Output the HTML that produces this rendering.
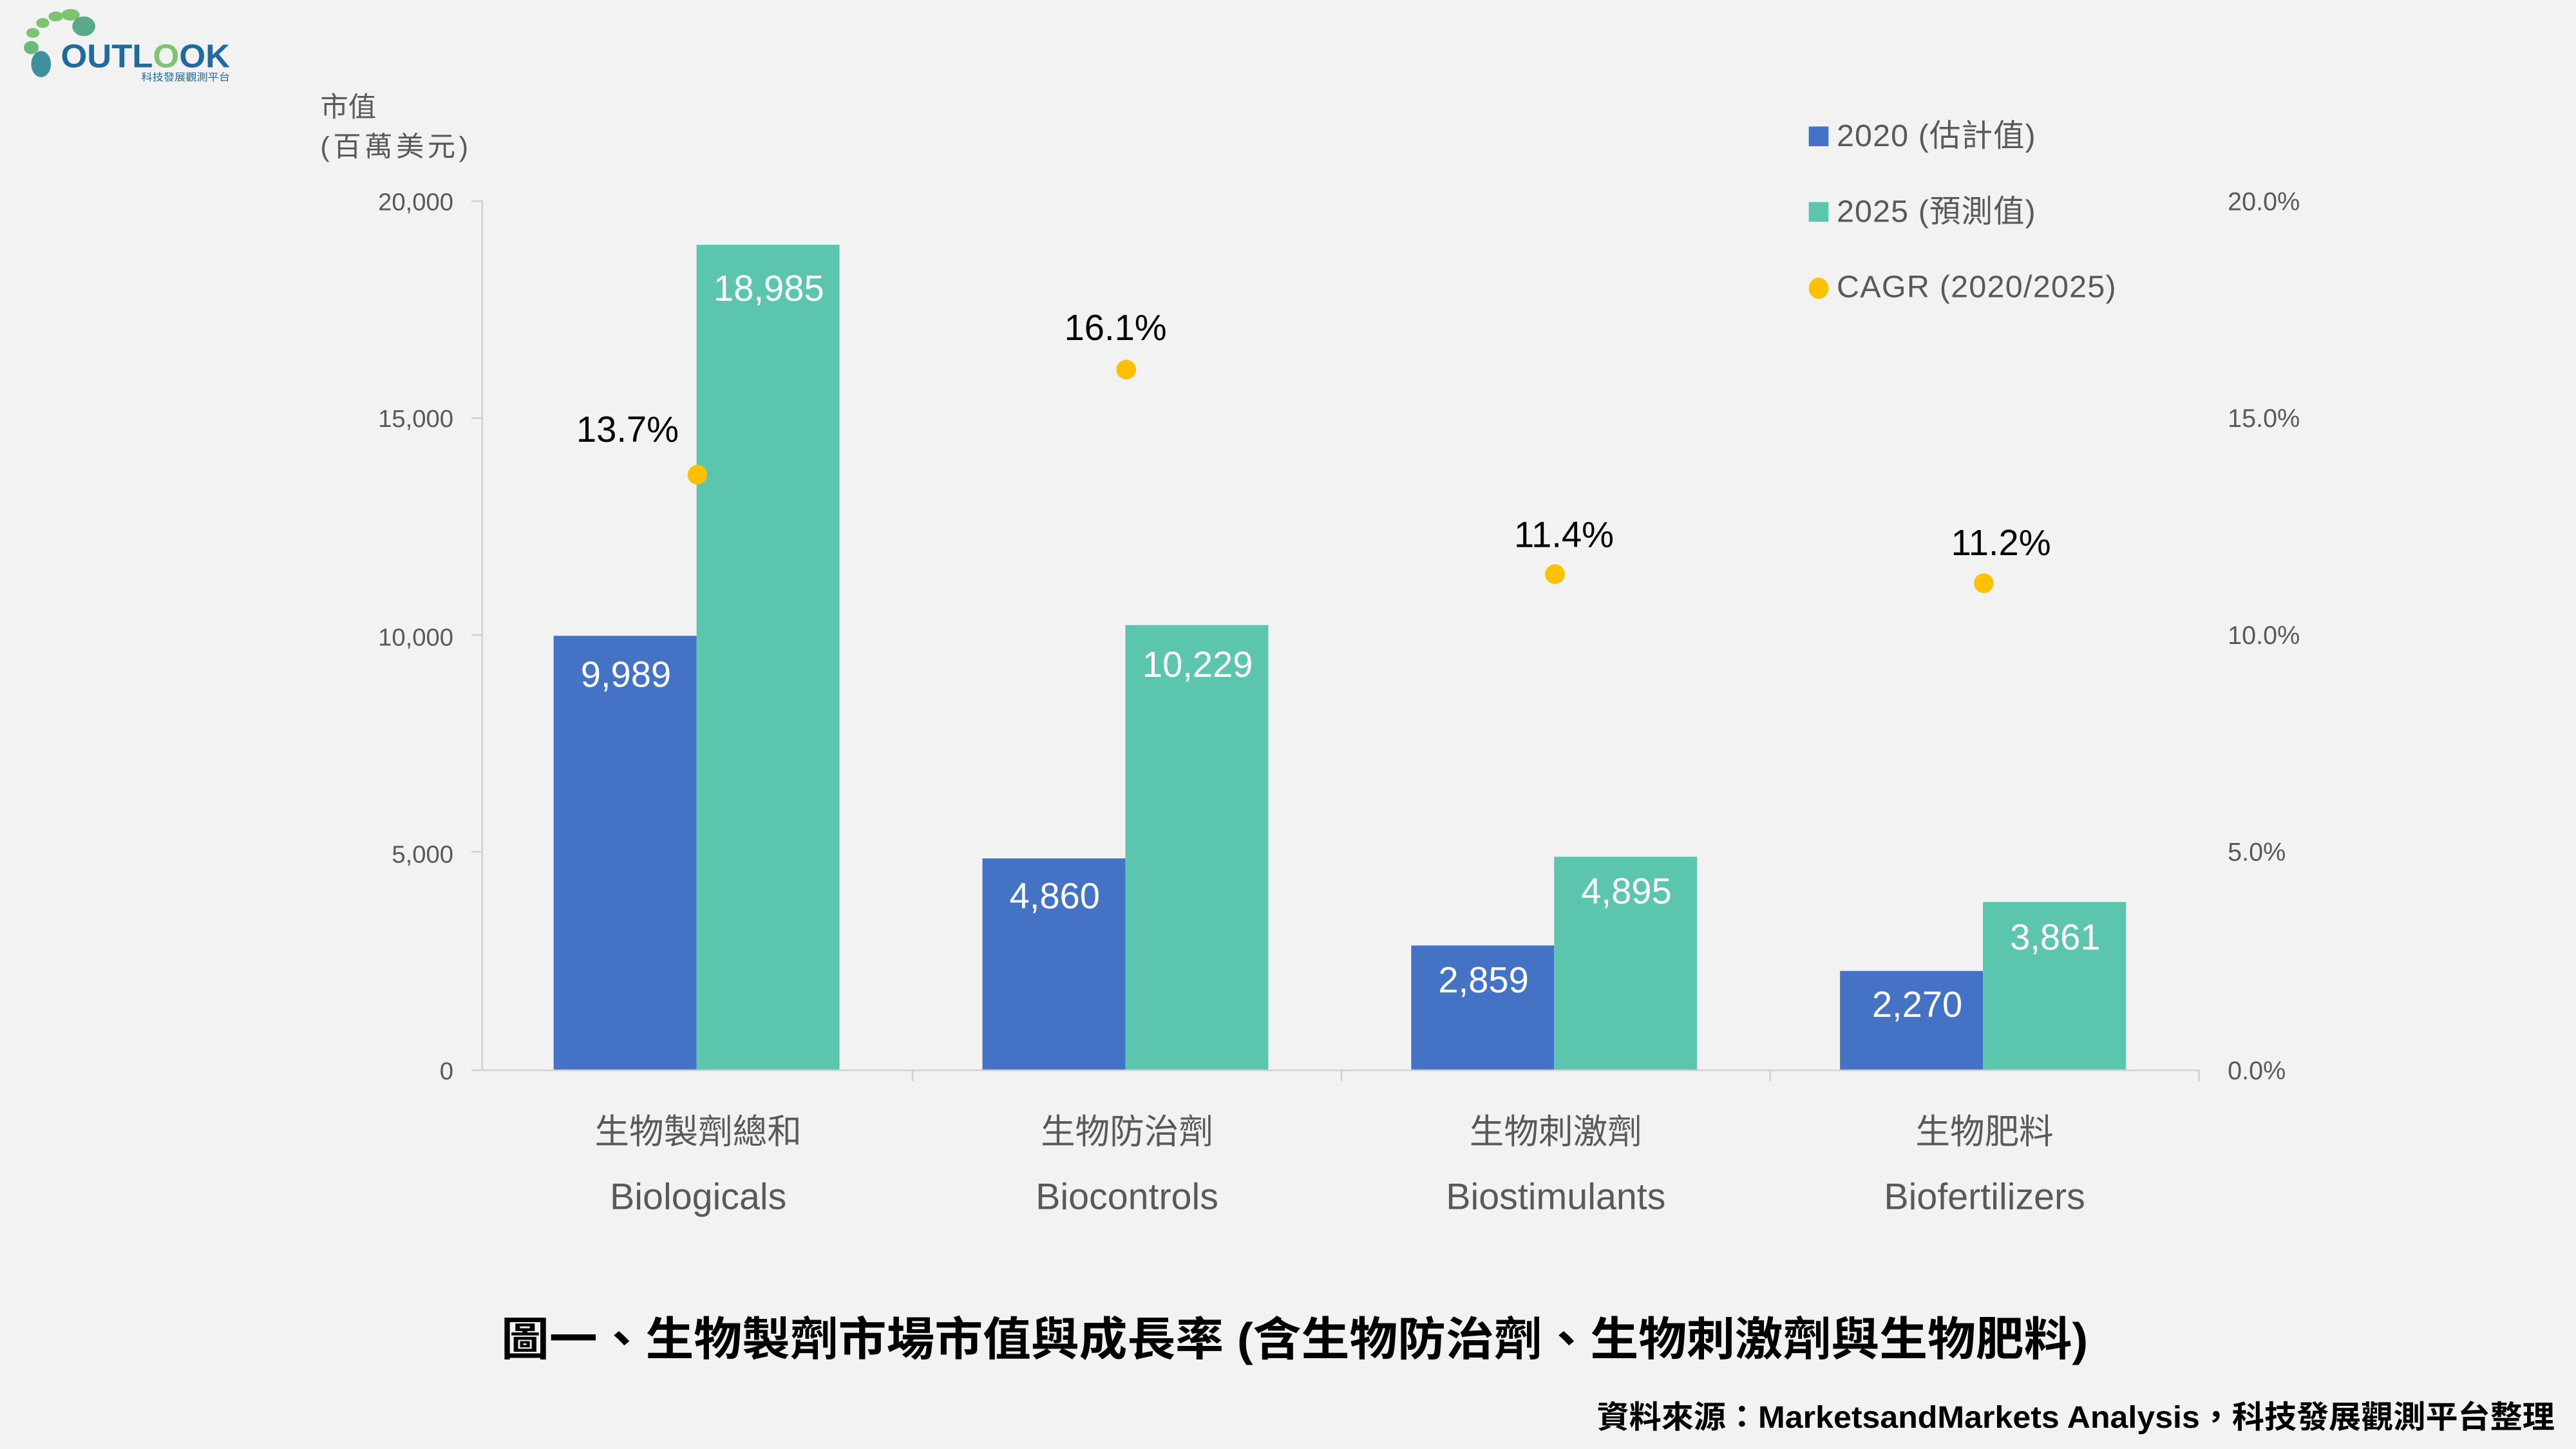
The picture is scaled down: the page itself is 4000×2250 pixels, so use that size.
<!DOCTYPE html>
<html><head><meta charset="utf-8"><style>
html,body{margin:0;padding:0;background:#f2f2f2;}
svg{display:block;}
text{font-family:"Liberation Sans","Noto Sans CJK TC",sans-serif;}
</style></head><body>
<svg width="4000" height="2250" viewBox="0 0 1568 882" xmlns="http://www.w3.org/2000/svg">
<rect width="1568" height="882" fill="#f2f2f2"/>
<!-- logo -->
<g>
<ellipse cx="25" cy="39" rx="6" ry="8" fill="#3f8f9c"/>
<ellipse cx="19" cy="29" rx="4.5" ry="4" fill="#6aba7a"/>
<ellipse cx="20" cy="20" rx="4" ry="3" fill="#7cc470"/>
<ellipse cx="26" cy="14" rx="4" ry="3" fill="#7cc470"/>
<ellipse cx="34" cy="10" rx="4.5" ry="3" fill="#7cc470"/>
<ellipse cx="43" cy="9" rx="5.5" ry="3.5" fill="#7cc470"/>
<ellipse cx="51" cy="16" rx="7" ry="6" fill="#5aaa88"/>
<text x="37" y="41" font-size="20" font-weight="bold" fill="#1f6aa0" textLength="103" lengthAdjust="spacingAndGlyphs">OUTL<tspan fill="#7cc470">O</tspan>OK</text>
<text x="86" y="49" font-size="6" fill="#1f6aa0" textLength="54" lengthAdjust="spacingAndGlyphs">科技發展觀測平台</text>
</g>
<!-- axis titles -->
<text x="195" y="71" font-size="17" fill="#595959">市值</text>
<text x="195" y="95" font-size="17" fill="#595959" textLength="90">(百萬美元)</text>
<!-- left ticks -->
<g font-size="15" fill="#595959" text-anchor="end">
<text x="276" y="128">20,000</text>
<text x="276" y="260">15,000</text>
<text x="276" y="393">10,000</text>
<text x="276" y="525">5,000</text>
<text x="276" y="657">0</text>
</g>
<g font-size="15.5" fill="#595959">
<text x="1356" y="128">20.0%</text>
<text x="1356" y="260">15.0%</text>
<text x="1356" y="392">10.0%</text>
<text x="1356" y="524">5.0%</text>
<text x="1356" y="657">0.0%</text>
</g>
<!-- axes -->
<g stroke="#d0d0d0" stroke-width="1">
<line x1="293.5" y1="122" x2="293.5" y2="651"/>
<line x1="287" y1="122.5" x2="293" y2="122.5"/>
<line x1="287" y1="254.5" x2="293" y2="254.5"/>
<line x1="287" y1="386.5" x2="293" y2="386.5"/>
<line x1="287" y1="518.5" x2="293" y2="518.5"/>
<line x1="287" y1="651.5" x2="1338" y2="651.5"/>
<line x1="555.5" y1="651" x2="555.5" y2="658"/>
<line x1="816.5" y1="651" x2="816.5" y2="658"/>
<line x1="1077.5" y1="651" x2="1077.5" y2="658"/>
<line x1="1338.5" y1="651" x2="1338.5" y2="658"/>
</g>
<!-- bars -->
<g fill="#4472c4">
<rect x="337" y="387" width="87" height="264"/>
<rect x="598" y="522.5" width="87" height="128.5"/>
<rect x="859" y="575.5" width="87" height="75.5"/>
<rect x="1120" y="591" width="87" height="60"/>
</g>
<g fill="#5bc5ad">
<rect x="424" y="149" width="87" height="502"/>
<rect x="685" y="380.5" width="87" height="270.5"/>
<rect x="946" y="521.5" width="87" height="129.5"/>
<rect x="1207" y="549" width="87" height="102"/>
</g>
<g font-size="22" fill="#ffffff" text-anchor="middle">
<text x="381" y="418">9,989</text>
<text x="468" y="183">18,985</text>
<text x="642" y="553">4,860</text>
<text x="729" y="412">10,229</text>
<text x="903" y="604">2,859</text>
<text x="990" y="550">4,895</text>
<text x="1167" y="619">2,270</text>
<text x="1251" y="578">3,861</text>
</g>
<!-- CAGR -->
<g fill="#ffc000">
<circle cx="424.5" cy="289" r="6"/>
<circle cx="685.5" cy="225" r="6"/>
<circle cx="946.5" cy="349.5" r="6"/>
<circle cx="1207.5" cy="355" r="6"/>
</g>
<g font-size="22" fill="#000" text-anchor="middle">
<text x="382" y="269">13.7%</text>
<text x="679" y="207">16.1%</text>
<text x="952" y="333">11.4%</text>
<text x="1218" y="338">11.2%</text>
</g>
<!-- category labels -->
<g font-size="21" fill="#595959" text-anchor="middle">
<text x="425" y="696">生物製劑總和</text>
<text x="425" y="736" font-size="22.5">Biologicals</text>
<text x="686" y="696">生物防治劑</text>
<text x="686" y="736" font-size="22.5">Biocontrols</text>
<text x="947" y="696">生物刺激劑</text>
<text x="947" y="736" font-size="22.5">Biostimulants</text>
<text x="1208" y="696">生物肥料</text>
<text x="1208" y="736" font-size="22.5">Biofertilizers</text>
</g>
<!-- legend -->
<rect x="1101" y="77" width="12" height="12" fill="#4472c4"/>
<rect x="1101" y="123" width="12" height="12" fill="#5bc5ad"/>
<ellipse cx="1107" cy="175.5" rx="6" ry="6.5" fill="#ffc000"/>
<g font-size="19" fill="#595959">
<text x="1118" y="89" textLength="121">2020 (估計值)</text>
<text x="1118" y="135" textLength="121">2025 (預測值)</text>
<text x="1118" y="181" textLength="170">CAGR (2020/2025)</text>
</g>
<!-- title -->
<text x="305" y="825" font-size="28" font-weight="bold" fill="#000" textLength="966" lengthAdjust="spacingAndGlyphs">圖一、生物製劑市場市值與成長率 (含生物防治劑、生物刺激劑與生物肥料)</text>
<text x="972" y="869" font-size="19" font-weight="bold" fill="#000" textLength="583" lengthAdjust="spacingAndGlyphs">資料來源：MarketsandMarkets Analysis，科技發展觀測平台整理</text>
</svg>
</body></html>
